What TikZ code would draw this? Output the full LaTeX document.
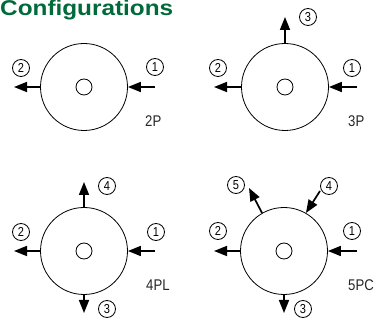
\documentclass[tikz,border=0pt]{standalone}
\usepackage{fontspec}
\setmainfont{Liberation Sans}
\usetikzlibrary{arrows.meta}
\definecolor{titlegreen}{RGB}{0,106,58}
\tikzset{
  body/.style={circle,draw,line width=0.8pt,minimum size=87pt,inner sep=0pt},
  hub/.style={circle,draw,line width=0.8pt,minimum size=16pt,inner sep=0pt},
  port/.style={circle,draw,line width=0.8pt,minimum size=17pt,inner sep=0pt,font=\fontsize{13}{13}\selectfont},
  flow/.style={line width=1.7pt,-{Triangle[length=13pt,width=10pt]}},
  cfg/.style={anchor=base west,inner sep=0pt,font=\fontsize{15.5}{15.5}\selectfont,text=black!85}
}
\newcommand{\digit}[1]{\scalebox{0.85}[1]{#1}}
\begin{document}
\begin{tikzpicture}[x=1pt,y=-1pt]
\useasboundingbox (0,0) rectangle (375,320);
\node[anchor=base west,inner sep=0pt,text=titlegreen] (title) at (0,16) {\resizebox{173pt}{15.5pt}{\bfseries Configurations}};

% 2P
\node[body] (b1) at (84,87) {};
\node[hub] (h1) at (84,87) {};
\coordinate (b1w) at (14,87);
\coordinate (b1e) at (155,87);
\draw[flow] (b1.west) -- (b1w);
\draw[flow] (b1e) -- (b1.east);
\node[port] (p12) at (21,68) {\digit{2}};
\node[port] (p11) at (155,67) {\digit{1}};
\node[cfg] (t1) at (145,127) {\digit{2P}};

% 3P
\node[body] (b2) at (285,87) {};
\node[hub] (h2) at (285,87) {};
\coordinate (b2w) at (214,87);
\coordinate (b2e) at (357,87);
\coordinate (b2n) at (285,17);
\draw[flow] (b2.west) -- (b2w);
\draw[flow] (b2e) -- (b2.east);
\draw[flow] (b2.north) -- (b2n);
\node[port] (p22) at (218,68) {\digit{2}};
\node[port] (p21) at (352,68) {\digit{1}};
\node[port] (p23) at (308,17) {\digit{3}};
\node[cfg] (t2) at (348,127) {\digit{3P}};

% 4PL
\node[body] (b3) at (84,251) {};
\node[hub] (h3) at (84,251) {};
\coordinate (b3w) at (14,251);
\coordinate (b3e) at (155,251);
\coordinate (b3n) at (84,182);
\coordinate (b3s) at (84,313);
\draw[flow] (b3.west) -- (b3w);
\draw[flow] (b3e) -- (b3.east);
\draw[flow] (b3.north) -- (b3n);
\draw[flow] (b3.south) -- (b3s);
\node[port] (p32) at (21,232) {\digit{2}};
\node[port] (p31) at (156,232) {\digit{1}};
\node[port] (p34) at (107,186) {\digit{4}};
\node[port] (p33) at (107,309) {\digit{3}};
\node[cfg] (t3) at (146,291) {\digit{4PL}};

% 5PC
\node[body] (b4) at (284,251) {};
\node[hub] (h4) at (284,251) {};
\coordinate (b4w) at (214,251);
\coordinate (b4e) at (357,251);
\coordinate (b4s) at (284,313);
\coordinate (b4nw) at (249,188);
\coordinate (b4ne) at (320,191);
\draw[flow] (b4.west) -- (b4w);
\draw[flow] (b4e) -- (b4.east);
\draw[flow] (b4.south) -- (b4s);
\draw[flow] (b4.120) -- (b4nw);
\draw[flow] (b4ne) -- (b4.60);
\node[port] (p42) at (218,231) {\digit{2}};
\node[port] (p41) at (352,231) {\digit{1}};
\node[port] (p45) at (236,185) {\digit{5}};
\node[port] (p44) at (329,186) {\digit{4}};
\node[port] (p43) at (303,309) {\digit{3}};
\node[cfg] (t4) at (348,291) {\digit{5PC}};
\end{tikzpicture}
\end{document}
